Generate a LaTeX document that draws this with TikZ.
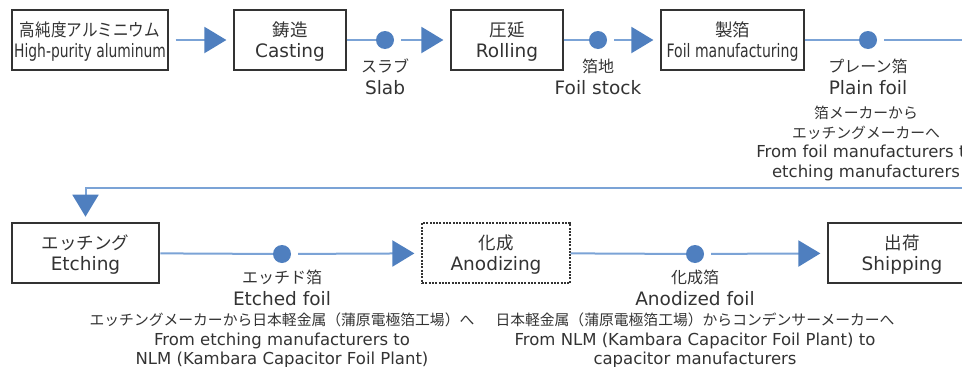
\documentclass[tikz,border=0pt]{standalone}
\usepackage{fontspec}
\setmainfont{DejaVu Sans}
\newfontfamily\jpfont{Noto Sans CJK JP}
\usepackage{tikz}
\usetikzlibrary{arrows.meta}

\definecolor{flowline}{HTML}{7BA3D6}
\definecolor{flowtip}{HTML}{4F7FBF}
\definecolor{ink}{HTML}{333333}

\newcommand{\sj}[1]{{\jpfont\fontsize{17.5}{20}\selectfont #1}}
\newcommand{\mj}[1]{{\jpfont\fontsize{16}{20}\selectfont #1}}
\newcommand{\rj}[1]{{\jpfont\fontsize{14.8}{19.5}\selectfont #1}}

\tikzset{
  stage/.style={draw=ink, line width=1.2pt, minimum height=60pt, inner sep=0pt, text depth=0pt, align=center, text=ink, font=\fontsize{18.5}{21}\selectfont},
  matdot/.style={circle, fill=flowtip, minimum size=18pt, inner sep=0pt},
  matname/.style={anchor=north, inner sep=0pt, align=center, text=ink, font=\fontsize{18.5}{21.5}\selectfont},
  matroute/.style={anchor=north, inner sep=0pt, align=center, text=ink, font=\fontsize{16.5}{19.5}\selectfont},
  flow/.style={line width=2pt, draw=flowline, shorten <=7pt, shorten >=7pt, -{Triangle[length=22pt, width=26pt, color=flowtip]}},
}

\begin{document}
\begin{tikzpicture}[x=1pt, y=-1pt]
\useasboundingbox (0,0) rectangle (962,367);
\clip (0,0) rectangle (962,367);

\node (p1) at (90, 40) [stage, minimum width=156pt] {\scalebox{0.89}[1]{\sj{高純度アルミニウム}}\\\scalebox{0.75}[1]{High-purity aluminum}};
\node (p2) at (290, 40) [stage, minimum width=112pt] {\sj{鋳造}\\Casting};
\node (p3) at (507, 40) [stage, minimum width=112pt] {\sj{圧延}\\Rolling};
\node (p4) at (732.5, 40) [stage, minimum width=143pt] {\sj{製箔}\\\scalebox{0.76}[1]{Foil manufacturing}};
\node (p5) at (85.5, 253) [stage, minimum width=147pt, line width=2.6pt] {\sj{エッチング}\\Etching};
\node (p6) at (496, 253) [stage, minimum width=148pt, dash pattern=on 2pt off 1.3pt] {\sj{化成}\\Anodizing};
\node (p7) at (902, 253) [stage, minimum width=148pt] {\sj{出荷}\\Shipping};

\node (m1) at (385, 40) [matdot] {};
\node (m2) at (598, 40) [matdot] {};
\node (m3) at (868, 40) [matdot] {};
\node (m4) at (282, 254) [matdot] {};
\node (m5) at (695, 254) [matdot] {};

\node (l1) at (385, 59) [matname] {\mj{スラブ}\\Slab};
\node (l2) at (598, 59) [matname] {\mj{箔地}\\Foil stock};
\node (l3) at (868, 59) [matname] {\mj{プレーン箔}\\Plain foil};
\node (l4) at (282, 270) [matname] {\mj{エッチド箔}\\Etched foil};
\node (l5) at (695, 270) [matname] {\mj{化成箔}\\Anodized foil};

\node (w3) at (866, 106) [matroute] {\rj{箔メーカーから}\\\rj{エッチングメーカーへ}\\From foil manufacturers to\\etching manufacturers};
\node (w4) at (282, 313) [matroute] {\rj{エッチングメーカーから日本軽金属（蒲原電極箔工場）へ}\\From etching manufacturers to\\NLM (Kambara Capacitor Foil Plant)};
\node (w5) at (695, 313) [matroute] {\rj{日本軽金属（蒲原電極箔工場）からコンデンサーメーカーへ}\\From NLM (Kambara Capacitor Foil Plant) to\\capacitor manufacturers};

\coordinate (bendA) at (990, 40);
\coordinate (bendB) at (990, 188);
\coordinate (bendC) at (p5 |- bendB);

\draw[flow] (p1) -- (p2);
\draw[flow] (p2) -- (m1) -- (p3);
\draw[flow] (p3) -- (m2) -- (p4);
\draw[flow, shorten >=5pt] (p4) -- (m3) -- (bendA) -- (bendB) -- (bendC) -- (p5);
\draw[flow] (p5) -- (m4) -- (p6);
\draw[flow] (p6) -- (m5) -- (p7);
\end{tikzpicture}
\end{document}
